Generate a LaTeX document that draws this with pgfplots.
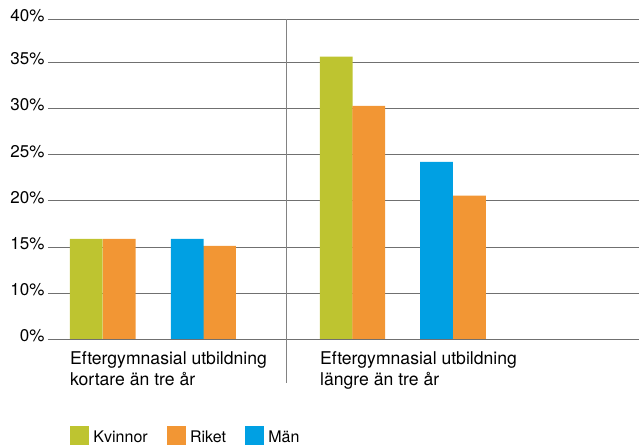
\documentclass[border=0pt]{standalone}
\usepackage{fontspec}
\setmainfont{TeX Gyre Heros}
\usepackage{pgfplots}
\pgfplotsset{compat=1.18}
\definecolor{cgreen}{RGB}{190,196,48}
\definecolor{corange}{RGB}{242,150,52}
\definecolor{cblue}{RGB}{0,160,227}
\definecolor{cgrid}{RGB}{112,112,112}
\definecolor{csep}{RGB}{130,130,130}
\begin{document}
\begin{tikzpicture}
\useasboundingbox (-48pt,-107.7pt) rectangle (591pt,339.3pt);
\begin{axis}[
  at={(0pt,0pt)}, anchor=south west,
  scale only axis, width=591pt, height=319.8pt,
  xmin=48, xmax=639, ymin=5, ymax=39.66,
  enlargelimits=false, clip=false,
  axis line style={draw=none},
  major tick length=0pt,
  ymajorgrids, grid style={cgrid, line width=1pt},
  ytick={5,10,15,20,25,30,35,39.66},
  yticklabels={0\%,10\%,15\%,20\%,25\%,30\%,35\%,40\%},
  yticklabel style={font=\fontsize{17}{20}\selectfont, yshift=3.5pt},
  xtick={70,320},
  xticklabels={{Eftergymnasial utbildning\\kortare än tre år},{Eftergymnasial utbildning\\längre än tre år}},
  xticklabel style={font=\fontsize{17.6}{21.5}\selectfont, anchor=north west, align=left, inner sep=0pt, yshift=-11.7pt},
  /pgf/number format/assume math mode=true,
  legend columns=3,
  legend image code/.code={\fill[#1] (0pt,-7.6pt) rectangle (19pt,11.4pt);},
  legend style={at={(axis cs:70,-4.36)}, anchor=north west, draw=none, fill=none, inner sep=0pt,
    font=\fontsize{16}{19}\selectfont,
    /tikz/every even column/.append style={column sep=17pt},
    /tikz/every odd column/.append style={column sep=2.3pt}},
]
\addplot[ybar, bar width=32.7, bar shift=0pt, fill=cgreen, draw=none] coordinates {(86.3,15.88) (336.2,35.63)};
\addlegendentry{Kvinnor}
\addplot[ybar, bar width=32.7, bar shift=0pt, fill=corange, draw=none] coordinates {(119.3,15.88) (219.5,15.12) (368.7,30.29) (469.5,20.57)};
\addlegendentry{Riket}
\addplot[ybar, bar width=32.7, bar shift=0pt, fill=cblue, draw=none] coordinates {(187.2,15.88) (436.5,24.22)};
\addlegendentry{Män}
\draw[cgrid, line width=1pt] (axis cs:48,5) -- (axis cs:639,5);
\draw[csep, line width=1.2pt] (axis cs:286.7,39.66) -- (axis cs:286.7,0.27);
\end{axis}
\end{tikzpicture}
\end{document}
